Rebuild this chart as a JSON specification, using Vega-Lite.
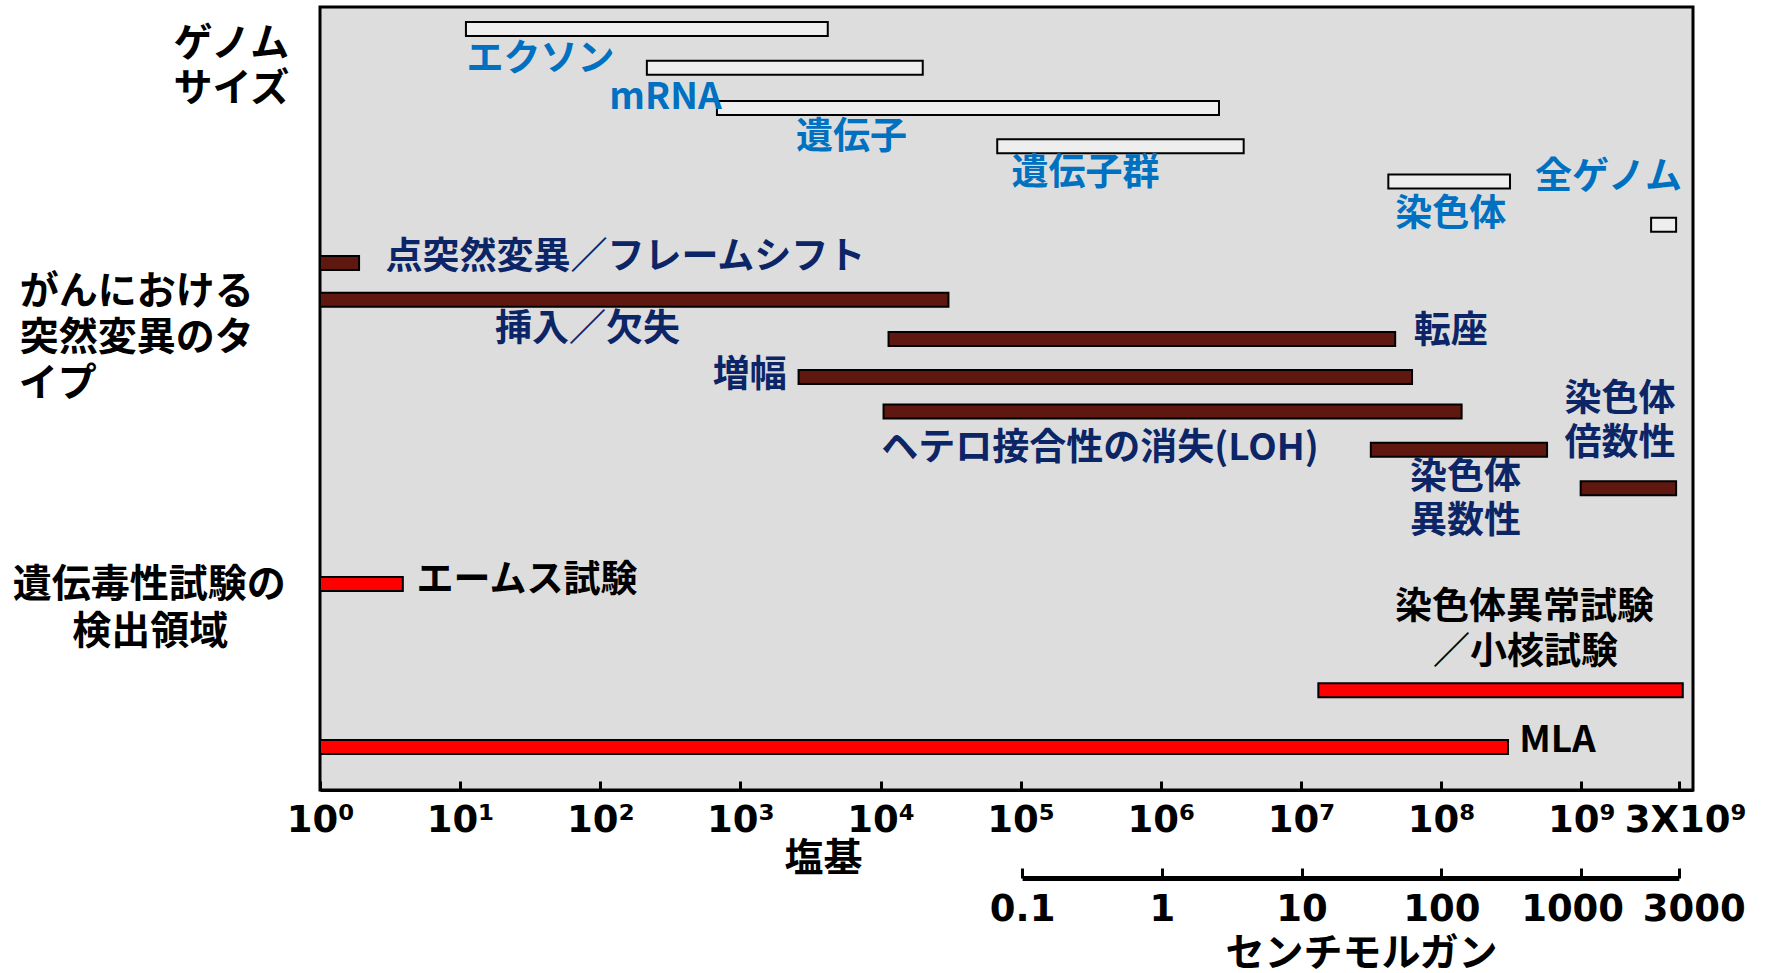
{
  "$schema": "https://vega.github.io/schema/vega-lite/v6.json",
  "width": 1373,
  "height": 783,
  "autosize": "none",
  "padding": {"left": 320, "top": 7, "right": 73, "bottom": 183},
  "background": "white",
  "config": {
    "view": {"fill": "#DDDDDD", "stroke": "black", "strokeWidth": 3},
    "font": "Noto Sans CJK JP",
    "scale": {"continuousPadding": 0}
  },
  "datasets": {
    "bars": [
      {"name": "エクソン", "kind": "genome", "start": 11, "end": 4200, "lane": 0.56},
      {"name": "mRNA", "kind": "genome", "start": 215, "end": 20000, "lane": 1.55},
      {"name": "遺伝子", "kind": "genome", "start": 680, "end": 2600000, "lane": 2.58},
      {"name": "遺伝子群", "kind": "genome", "start": 68000, "end": 3900000, "lane": 3.56},
      {"name": "染色体", "kind": "genome", "start": 42000000, "end": 310000000, "lane": 4.46},
      {"name": "全ゲノム", "kind": "genome", "start": 3150000000, "end": 4750000000, "lane": 5.56},
      {"name": "点突然変異／フレームシフト", "kind": "cancer", "start": 1, "end": 1.9, "lane": 6.54},
      {"name": "挿入／欠失", "kind": "cancer", "start": 1, "end": 30500, "lane": 7.48},
      {"name": "転座", "kind": "cancer", "start": 11400, "end": 47000000, "lane": 8.48},
      {"name": "増幅", "kind": "cancer", "start": 2600, "end": 62000000, "lane": 9.45},
      {"name": "ヘテロ接合性の消失(LOH)", "kind": "cancer", "start": 10500, "end": 140000000, "lane": 10.33},
      {"name": "染色体異数性", "kind": "cancer", "start": 31500000, "end": 570000000, "lane": 11.31},
      {"name": "染色体倍数性", "kind": "cancer", "start": 990000000, "end": 4750000000, "lane": 12.29},
      {"name": "エームス試験", "kind": "test", "start": 1, "end": 3.9, "lane": 14.74},
      {"name": "染色体異常試験／小核試験", "kind": "test", "start": 13300000, "end": 5300000000, "lane": 17.45},
      {"name": "MLA", "kind": "test", "start": 1, "end": 300000000, "lane": 18.9}
    ],
    "labels": [
      {"text": "エクソン", "kind": "genome", "x": 37.4, "lane": 1.28},
      {"text": "mRNA", "kind": "genome", "x": 292, "lane": 2.25},
      {"text": "遺伝子", "kind": "genome", "x": 6200, "lane": 3.28},
      {"text": "遺伝子群", "kind": "genome", "x": 290000, "lane": 4.19},
      {"text": "染色体", "kind": "genome", "x": 117000000, "lane": 5.24},
      {"text": "全ゲノム", "kind": "genome", "x": 1565000000, "lane": 4.29},
      {"text": "点突然変異／フレームシフト", "kind": "cancer", "x": 151, "lane": 6.34},
      {"text": "挿入／欠失", "kind": "cancer", "x": 81, "lane": 8.17},
      {"text": "増幅", "kind": "cancer", "x": 1167, "lane": 9.35},
      {"text": "転座", "kind": "cancer", "x": 117000000, "lane": 8.23},
      {"text": "ヘテロ接合性の消失(LOH)", "kind": "cancer", "x": 368000, "lane": 11.21},
      {"text": "染色体", "kind": "cancer", "x": 149000000, "lane": 11.95},
      {"text": "異数性", "kind": "cancer", "x": 149000000, "lane": 13.08},
      {"text": "染色体", "kind": "cancer", "x": 1890000000, "lane": 9.96},
      {"text": "倍数性", "kind": "cancer", "x": 1890000000, "lane": 11.09},
      {"text": "エームス試験", "kind": "test", "x": 30, "lane": 14.58},
      {"text": "染色体異常試験", "kind": "test", "x": 394000000, "lane": 15.27},
      {"text": "／小核試験", "kind": "test", "x": 400000000, "lane": 16.42},
      {"text": "MLA", "kind": "test", "x": 677000000, "lane": 18.67},
      {"text": "ゲノム", "kind": "group", "x": 0.233, "lane": 0.86},
      {"text": "サイズ", "kind": "group", "x": 0.233, "lane": 2.01},
      {"text": "がんにおける", "kind": "group", "x": 0.0492, "lane": 7.2},
      {"text": "突然変異のタ", "kind": "group", "x": 0.0492, "lane": 8.38},
      {"text": "イプ", "kind": "group", "x": 0.01345, "lane": 9.55},
      {"text": "遺伝毒性試験の", "kind": "group", "x": 0.0606, "lane": 14.69},
      {"text": "検出領域", "kind": "group", "x": 0.0616, "lane": 15.89}
    ]
  },
  "layer": [
    {
      "layer": [
        {
          "data": {"name": "bars"},
          "mark": {"type": "bar", "orient": "horizontal", "height": 14, "stroke": "black", "strokeWidth": 2},
          "encoding": {
            "x": {
              "field": "start", "type": "quantitative", "title": "塩基",
              "scale": {"type": "log", "domain": [1, 6270000000], "nice": false, "padding": 0},
              "axis": {
                "values": [1, 10, 100, 1000, 10000, 100000, 1000000, 10000000, 100000000, 1000000000, 5000000000],
                "labelExpr": "datum.value > 4e9 ? '3X10⁹' : '10' + ['⁰','¹','²','³','⁴','⁵','⁶','⁷','⁸','⁹'][round(log(datum.value)/LN10)]",
                "grid": false,
                "domainColor": "black", "domainWidth": 3,
                "tickColor": "black", "tickWidth": 3, "tickSize": -9,
                "labelFont": "DejaVu Sans", "labelFontWeight": "bold", "labelFontSize": 37, "labelColor": "black",
                "labelBaseline": "top", "labelPadding": 21, "labelFlush": false, "labelOverlap": false,
                "labelOffset": {"condition": {"test": "datum.value > 4e9", "value": 6}, "value": 0},
                "title": "塩基",
                "titleFont": "Noto Sans CJK JP", "titleFontWeight": "bold", "titleFontSize": 39, "titleColor": "black",
                "titleX": 503, "titleY": 68, "titleAlign": "center", "titleBaseline": "middle", "titleAnchor": null
              }
            },
            "x2": {"field": "end"},
            "y": {"field": "lane", "type": "quantitative", "scale": {"domain": [0, 20], "reverse": true, "nice": false, "zero": false, "padding": 0}, "axis": null},
            "color": {
              "field": "kind", "type": "nominal",
              "scale": {"domain": ["genome", "cancer", "test"], "range": ["#EEEEEE", "#5F1810", "#FF0000"]},
              "legend": null
            }
          }
        },
        {
          "data": {"name": "labels"},
          "transform": [{"filter": "datum.kind == 'genome'"}],
          "mark": {"type": "text", "font": "Noto Sans CJK JP", "fontWeight": "bold", "fontSize": 37, "align": "center", "baseline": "middle", "dy": 3, "color": "#0070C0"},
          "encoding": {
            "x": {"field": "x", "type": "quantitative", "title": "塩基", "scale": {"type": "log", "domain": [1, 6270000000], "nice": false, "padding": 0}},
            "y": {"field": "lane", "type": "quantitative", "scale": {"domain": [0, 20], "reverse": true, "nice": false, "zero": false, "padding": 0}, "axis": null},
            "text": {"field": "text"}
          }
        },
        {
          "data": {"name": "labels"},
          "transform": [{"filter": "datum.kind == 'cancer'"}],
          "mark": {"type": "text", "font": "Noto Sans CJK JP", "fontWeight": "bold", "fontSize": 37, "align": "center", "baseline": "middle", "dy": 3, "color": "#0B2566"},
          "encoding": {
            "x": {"field": "x", "type": "quantitative", "title": "塩基", "scale": {"type": "log", "domain": [1, 6270000000], "nice": false, "padding": 0}},
            "y": {"field": "lane", "type": "quantitative", "scale": {"domain": [0, 20], "reverse": true, "nice": false, "zero": false, "padding": 0}, "axis": null},
            "text": {"field": "text"}
          }
        },
        {
          "data": {"name": "labels"},
          "transform": [{"filter": "datum.kind == 'test'"}],
          "mark": {"type": "text", "font": "Noto Sans CJK JP", "fontWeight": "bold", "fontSize": 37, "align": "center", "baseline": "middle", "dy": 3, "color": "black"},
          "encoding": {
            "x": {"field": "x", "type": "quantitative", "title": "塩基", "scale": {"type": "log", "domain": [1, 6270000000], "nice": false, "padding": 0}},
            "y": {"field": "lane", "type": "quantitative", "scale": {"domain": [0, 20], "reverse": true, "nice": false, "zero": false, "padding": 0}, "axis": null},
            "text": {"field": "text"}
          }
        },
        {
          "data": {"name": "labels"},
          "transform": [{"filter": "datum.kind == 'group'"}],
          "mark": {"type": "text", "font": "Noto Sans CJK JP", "fontWeight": "bold", "fontSize": 39, "align": "center", "baseline": "middle", "dy": 3, "color": "black"},
          "encoding": {
            "x": {"field": "x", "type": "quantitative", "title": "塩基", "scale": {"type": "log", "domain": [1, 6270000000], "nice": false, "padding": 0}},
            "y": {"field": "lane", "type": "quantitative", "scale": {"domain": [0, 20], "reverse": true, "nice": false, "zero": false, "padding": 0}, "axis": null},
            "text": {"field": "text"}
          }
        }
      ]
    },
    {
      "data": {"values": [{"bases": 100000}]},
      "mark": {"type": "point", "opacity": 0},
      "encoding": {
        "x": {
          "field": "bases", "type": "quantitative", "title": "センチモルガン",
          "scale": {"type": "log", "domain": [100000, 5000000000], "range": [702.1, 1358.8], "nice": false, "padding": 0},
          "axis": {
            "orient": "bottom", "offset": 88,
            "values": [100000, 1000000, 10000000, 100000000, 1000000000, 5000000000],
            "labelExpr": "datum.value > 4e9 ? '3000' : format(datum.value / 1e6, '~g')",
            "grid": false,
            "domainColor": "black", "domainWidth": 5,
            "tickColor": "black", "tickWidth": 3, "tickSize": -10,
            "labelFont": "DejaVu Sans", "labelFontWeight": "bold", "labelFontSize": 37, "labelColor": "black",
            "labelBaseline": "top", "labelPadding": 23, "labelFlush": false, "labelOverlap": false,
            "labelOffset": {"condition": [{"test": "datum.value > 4e9", "value": 15}, {"test": "datum.value > 5e8", "value": -9}], "value": 0},
            "title": "センチモルガン",
            "titleFont": "Noto Sans CJK JP", "titleFontWeight": "bold", "titleFontSize": 39, "titleColor": "black",
            "titleX": 1041, "titleY": 75, "titleAlign": "center", "titleBaseline": "middle", "titleAnchor": null
          }
        }
      }
    }
  ],
  "resolve": {"scale": {"x": "independent"}, "axis": {"x": "independent"}}
}
